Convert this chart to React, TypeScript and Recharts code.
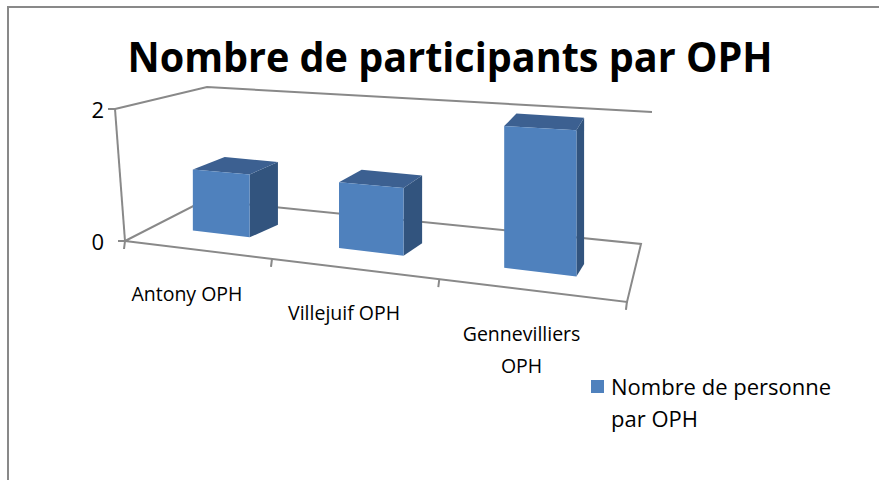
import React from "react";
import { Bar, BarChart, Legend, XAxis, YAxis } from "recharts";

const categories = ["Antony OPH", "Villejuif OPH", "Gennevilliers OPH"];
const participants = [1, 1, 2];
const yTicks = [0, 2];
const seriesName = "Nombre de personne par OPH";

const data = categories.map((name, i) => ({ name, value: participants[i] }));

// flat plot box handed to recharts, then bent into Excel's 3D perspective
const W = 879;
const H = 480;
const FLAT_LEFT = 153;
const FLAT_W = 393;
const FLAT_TOP = 109;
const FLAT_H = 132;
const YAXIS_W = 60;
const XAXIS_H = 30;

const FRONT = "#4F81BD";
const TOP = "#3C6091";
const SIDE = "#32547E";
const FRAME = "#898989";
const FONT = "'Open Sans', sans-serif";

// bar plane (half way into the floor)
const barX = (fx: number) => {
  const t = fx - FLAT_LEFT;
  return FLAT_LEFT + t + 0.000554 * t * t;
};
const barBase = (sx: number) => 234 + 0.12 * (sx - 222);
const barFull = (sx: number) => 124 + 0.063 * (sx - 222);
const depthX = (sx: number) => 30 - 0.063 * (sx - 222);
const DEPTH_Y = -12.5;

// front edge of the floor
const frontX = (fx: number) => {
  const t = fx - FLAT_LEFT;
  return 125 + 1.0445 * t + 0.000592 * t * t;
};
const frontY = (sx: number) => 241 + 0.1215 * (sx - 125);

const pts = (list: number[][]) => list.map((p) => p.join(",")).join(" ");

function Bar3D(props: any) {
  const { x, width, height, background } = props;
  if (width == null || height == null) return null;
  const full = background?.height || FLAT_H;
  const f = Math.max(0, height) / full;
  const xl = barX(x);
  const xr = barX(x + width);
  const bl = [xl, barBase(xl)];
  const br = [xr, barBase(xr)];
  const tl = [xl, barBase(xl) - barFull(xl) * f];
  const tr = [xr, barBase(xr) - barFull(xr) * f];
  const btl = [tl[0] + depthX(xl), tl[1] + DEPTH_Y];
  const btr = [tr[0] + depthX(xr), tr[1] + DEPTH_Y];
  const bbr = [br[0] + depthX(xr), br[1] + DEPTH_Y];
  return (
    <g>
      <polygon points={pts([tr, btr, bbr, br])} fill={SIDE} />
      <polygon points={pts([tl, btl, btr, tr])} fill={TOP} />
      <polygon points={pts([tl, tr, br, bl])} fill={FRONT} />
    </g>
  );
}

function YTick(props: any) {
  const { y, payload } = props;
  const wx = 115 + ((y - FLAT_TOP) / FLAT_H) * 10;
  return (
    <g>
      <line x1={wx - 7} y1={y} x2={wx} y2={y} stroke={FRAME} strokeWidth={2} />
      <text
        x={104}
        y={y + 3}
        textAnchor="end"
        dominantBaseline="middle"
        fontFamily={FONT}
        fontSize={22}
        fill="#000"
      >
        {payload.value}
      </text>
    </g>
  );
}

function CatTick(props: any) {
  const { x, payload } = props;
  const sx = frontX(x);
  const cy = frontY(sx) + 46;
  const label: string = String(payload.value);
  let lines = [label];
  if (label.length > 14) {
    const cut = label.lastIndexOf(" ");
    lines = [label.slice(0, cut), label.slice(cut + 1)];
  }
  return (
    <g>
      {lines.map((ln, i) => (
        <text
          key={i}
          x={sx - 9}
          y={cy + i * 32}
          textAnchor="middle"
          dominantBaseline="middle"
          fontFamily={FONT}
          fontSize={19.5}
          fill="#000"
        >
          {ln}
        </text>
      ))}
    </g>
  );
}

function Frame() {
  const band = FLAT_W / categories.length;
  const marks = [];
  for (let i = 0; i <= categories.length; i++) {
    const sx = frontX(FLAT_LEFT + i * band);
    marks.push([sx, frontY(sx)]);
  }
  return (
    <svg width={W} height={H} style={{ position: "absolute", left: 0, top: 0 }}>
      <text
        x={450}
        y={72}
        textAnchor="middle"
        fontFamily={FONT}
        fontWeight="bold"
        fontSize={41}
        textLength={645}
        lengthAdjust="spacingAndGlyphs"
        fill="#000"
      >
        Nombre de participants par OPH
      </text>
      <g fill="none" stroke={FRAME} strokeWidth={2}>
        <polyline points="115,109 207,87 652,112" />
        <line x1={115} y1={109} x2={125} y2={241} />
        <polygon points="125,241 627,302 641,244 205,200" />
        {marks.map(([mx, my], i) => (
          <line key={i} x1={mx} y1={my} x2={mx - 1} y2={my + 8} />
        ))}
      </g>
    </svg>
  );
}

function LegendBox() {
  return (
    <div style={{ position: "relative", fontFamily: FONT, fontSize: 22, lineHeight: "32px", color: "#000" }}>
      <span
        style={{
          position: "absolute",
          left: 0,
          top: 10,
          width: 13,
          height: 13,
          background: FRONT,
        }}
      />
      <div style={{ paddingLeft: 20, width: 250 }}>{seriesName}</div>
    </div>
  );
}

export default function App() {
  return (
    <div
      style={{
        position: "absolute",
        left: 0,
        top: 0,
        width: W,
        height: H,
        overflow: "hidden",
        background: "#fff",
      }}
    >
      <div
        style={{
          position: "absolute",
          left: 7,
          top: 6,
          width: W - 7,
          height: H - 6,
          borderLeft: `2px solid ${FRAME}`,
          borderTop: `2px solid ${FRAME}`,
          boxSizing: "border-box",
        }}
      />
      <Frame />
      <div style={{ position: "absolute", left: 0, top: 0 }}>
        <BarChart
          width={W}
          height={H}
          data={data}
          margin={{
            top: FLAT_TOP,
            left: FLAT_LEFT - YAXIS_W,
            right: W - FLAT_LEFT - FLAT_W,
            bottom: H - FLAT_TOP - FLAT_H - XAXIS_H,
          }}
        >
          <XAxis
            dataKey="name"
            height={XAXIS_H}
            axisLine={false}
            tickLine={false}
            interval={0}
            tick={(p: any) => <CatTick {...p} />}
          />
          <YAxis
            width={YAXIS_W}
            domain={[0, 2]}
            ticks={yTicks}
            axisLine={false}
            tickLine={false}
            tick={(p: any) => <YTick {...p} />}
          />
          <Legend
            layout="vertical"
            align="center"
            verticalAlign="middle"
            wrapperStyle={{ left: 591, top: 370, width: 270 }}
            content={() => <LegendBox />}
          />
          <Bar
            dataKey="value"
            name={seriesName}
            barSize={53}
            isAnimationActive={false}
            shape={(p: any) => <Bar3D {...p} />}
          />
        </BarChart>
      </div>
    </div>
  );
}
